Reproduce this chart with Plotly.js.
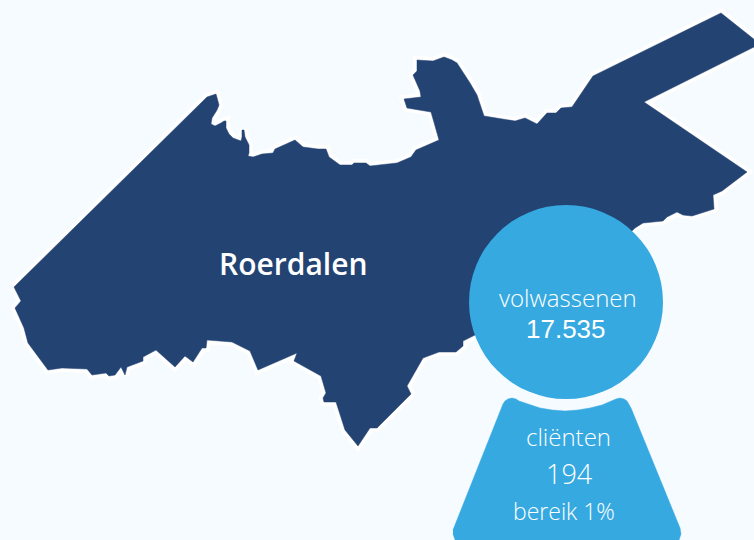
<!DOCTYPE html>
<html><head><meta charset="utf-8">
<script src="https://cdn.plot.ly/plotly-3.0.1.min.js"></script>
<style>html,body{margin:0;padding:0;background:#F5FBFF}</style></head>
<body><div id="chart" style="width:754px;height:540px"></div>
<script>
const regionName = "Roerdalen";
const outlineX = [14,207,216,219,217,212,211,215,221,224,226,226,229,233,241,242,242,244,245,249,249,248,253,262,273,275,295,303,318,326,329,340,352,354,366,370,397,411,416,439,431,407,404,421,420,413,417,417,433,444,452,457,470,477,484,515,525,537,547,556,561,572,593,721,760,644,747,722,713,714,692,683,677,667,663,643,635,560,475,463,463,456,439,423,407,411,377,370,358,345,336,324,323,326,321,294,297,258,250,232,207,206,202,193,185,175,156,143,143,127,125,121,115,109,106,92,87,62,48,28,24,15,21,14];
const outlineY = [287,97,94,105,110,118,124,126,123,121,121,128,134,138,141,137,130,130,137,145,153,156,157,154,153,149,140,147,149,149,157,165,165,163,163,166,163,157,150,140,112,108,99,97,91,75,71,60,61,57,60,63,83,95,116,121,118,124,113,113,108,107,76,13,44,102,172,191,195,209,216,215,212,217,221,223,228,300,335,341,346,352,352,358,386,394,428,428,446,430,402,402,398,393,376,361,353,370,351,342,340,348,348,362,356,367,350,357,361,367,375,367,375,376,373,375,369,368,370,343,328,308,301,287];
const capX = [453,501,503,505,508,512,516,519,530,540,552,565,578,590,602,613,616,620,624,627,631,680,681,679,677,457,455,453];
const capY = [530,408,404,401,399,398,399,401,405,408,410,411,410,408,405,400,399,398,399,401,408,528,534,540,545,545,540,534];
const adultLabel = "volwassenen";
const adultValue = "17.535";
const clientLabel = "cliënten";
const clientValue = "194";
const reachLabel = "bereik 1%";
const circleCentre = [566,302];
const circleRadius = 97;

const navy="#234373", blue="#36A9E1", bg="#F5FBFF", white="#FFFFFF";
const traces=[
 {x:outlineX,y:outlineY,mode:"lines",line:{color:white,width:8},hoverinfo:"skip",showlegend:false},
 {x:outlineX,y:outlineY,mode:"lines",fill:"toself",fillcolor:navy,line:{color:navy,width:0.5},hoverinfo:"skip",showlegend:false},
 {x:capX,y:capY,mode:"lines",fill:"toself",fillcolor:blue,line:{color:blue,width:0.5},hoverinfo:"skip",showlegend:false}
];
function note(text,x,y,size,family,weight){
 return {text:text,x:x,y:y,xref:"x",yref:"y",showarrow:false,xanchor:"center",yanchor:"middle",
  font:{family:family,size:size,color:white,weight:weight||400}};
}
const layout={
 width:754,height:540,margin:{l:0,r:0,t:0,b:0},paper_bgcolor:bg,plot_bgcolor:bg,showlegend:false,
 xaxis:{range:[0,754],visible:false,fixedrange:true},
 yaxis:{range:[540,0],visible:false,fixedrange:true},
 shapes:[{type:"circle",xref:"x",yref:"y",layer:"above",
  x0:circleCentre[0]-circleRadius,x1:circleCentre[0]+circleRadius,
  y0:circleCentre[1]-circleRadius,y1:circleCentre[1]+circleRadius,
  fillcolor:blue,line:{width:0}}],
 annotations:[
  note(regionName,293,263,30,"Open Sans",600),
  note(adultLabel,568,297,24,"Open Sans",300),
  note(adultValue,566,329,26,"Liberation Sans",400),
  note(clientLabel,568,436,24,"Open Sans",300),
  note(clientValue,569,473,27,"Open Sans",300),
  note(reachLabel,564,511,23,"Open Sans",300)
 ]
};
Plotly.newPlot("chart",traces,layout,{displayModeBar:false,staticPlot:true});
</script></body></html>
